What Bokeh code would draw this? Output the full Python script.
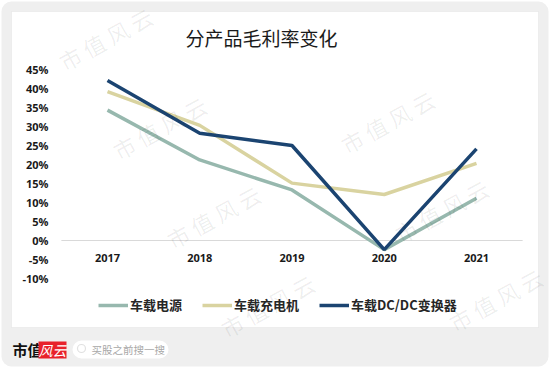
from bokeh.plotting import figure
from bokeh.models import Range1d, Label, BoxAnnotation, Legend, LegendItem
from bokeh.embed import file_html
from bokeh.resources import INLINE
from bokeh.core.properties import value

# ---------------- data ----------------
title_text = "分产品毛利率变化"
years = [2017, 2018, 2019, 2020, 2021]
year_labels = ["2017", "2018", "2019", "2020", "2021"]
power_supply = [34.3, 21.2, 13.3, -2.4, 11.1]     # 车载电源
onboard_charger = [39.2, 30.3, 15.1, 12.1, 20.3]  # 车载充电机
dcdc_converter = [42.1, 28.2, 25.0, -2.4, 24.1]   # 车载DC/DC变换器
series_names = ["车载电源", "车载充电机", "车载DC/DC变换器"]
y_ticks = [-10, -5, 0, 5, 10, 15, 20, 25, 30, 35, 40, 45]
y_tick_labels = ["-10%", "-5%", "0%", "5%", "10%", "15%", "20%", "25%", "30%", "35%", "40%", "45%"]
watermark_text = "市 值 风 云"
footer_brand = "市值"
footer_logo = "风云"
footer_search = "买股之前搜一搜"

# ---------------- layout (canvas pixel coordinates) ----------------
W, H = 550, 367
X_FIRST, X_LAST = 107, 476   # canvas x of first / last category
Y45, YM10 = 69, 278          # canvas y of the 45% and -10% ticks
kx = (X_LAST - X_FIRST) / (years[-1] - years[0])
ky = (YM10 - Y45) / 55.0
x_left = years[0] - X_FIRST / kx
x_right = years[0] + (W - X_FIRST) / kx
y_top = 45 + Y45 / ky
y_bot = -10 - (H - YM10) / ky


def px(x):
    return x_left + x / kx


def py(y):
    return y_top - y / ky


colors = ["#97b8ae", "#d9d3a0", "#1b4471"]
CJK = "Noto Sans CJK SC"

p = figure(width=W, height=H, x_range=Range1d(x_left, x_right), y_range=Range1d(y_bot, y_top),
           output_backend="svg", toolbar_location=None,
           min_border_left=0, min_border_right=0, min_border_top=0, min_border_bottom=0)
p.background_fill_color = "white"
p.border_fill_color = "white"
p.outline_line_color = None
p.grid.visible = False
p.axis.visible = False

# outer grey card
p.add_layout(BoxAnnotation(left=px(1), right=px(548), top=py(1), bottom=py(366), border_radius=10,
                           fill_color="#efefef", fill_alpha=1, line_color=None, level="underlay"))
# white panel
p.add_layout(BoxAnnotation(left=px(11), right=px(538), top=py(11), bottom=py(327),
                           fill_color="white", fill_alpha=1,
                           line_color="#d6d6d6", line_width=1, level="underlay"))

# zero line across the category band
p.segment(x0=[years[0] - 0.5], x1=[years[-1] + 0.5], y0=[0], y1=[0],
          line_color="#d9d9d9", line_width=1)

# y tick labels
p.text(x=[px(48)] * len(y_ticks), y=y_ticks, text=y_tick_labels,
       text_align="right", text_baseline="middle",
       text_font=value("Open Sans"), text_font_style="bold",
       text_font_size="11px", text_color="#1a1a1a")

renderers = []
for vals, c in zip([power_supply, onboard_charger, dcdc_converter], colors):
    r = p.line(years, vals, line_color=c, line_width=3.5)
    renderers.append(r)

# category labels just under the zero line
p.text(x=years, y=[0] * len(years), text=year_labels, y_offset=17,
       text_align="center", text_baseline="middle",
       text_font=value("Open Sans"), text_font_style="bold",
       text_font_size="11px", text_color="#1a1a1a")

legend = Legend(items=[LegendItem(label=n, renderers=[r]) for n, r in zip(series_names, renderers)],
                orientation="horizontal", location=(98, 53), padding=0, margin=0,
                spacing=20, glyph_width=30, glyph_height=16, label_standoff=2,
                label_height=16, label_text_font=CJK, label_text_font_style="bold",
                label_text_font_size="13px", label_text_color="#262626",
                border_line_color=None, background_fill_alpha=0)
p.add_layout(legend, "center")

# title
p.add_layout(Label(x=px(261), y=py(37), text=title_text,
                   text_align="center", text_baseline="middle", text_font=CJK,
                   text_font_size="19px", text_color="#1a1a1a"))

# footer
p.add_layout(Label(x=px(12), y=py(349), text=footer_brand,
                   text_align="left", text_baseline="middle", text_font=CJK,
                   text_font_style="bold", text_font_size="15px", text_color="#111111"))
p.add_layout(BoxAnnotation(left=px(38), right=px(66), top=py(341), bottom=py(358),
                           fill_color="#e8222b", fill_alpha=1, line_color=None))
p.add_layout(Label(x=px(52), y=py(349), text=footer_logo,
                   text_align="center", text_baseline="middle", text_font=CJK,
                   text_font_style="italic", text_font_size="14px", text_color="white"))
p.add_layout(BoxAnnotation(left=px(72), right=px(168), top=py(340), bottom=py(358),
                           border_radius=9, fill_color="white", fill_alpha=1, line_color=None))
p.add_layout(BoxAnnotation(left=px(77), right=px(85), top=py(344), bottom=py(352),
                           border_radius=4, fill_alpha=0, line_color="#9a9a9a", line_width=1.2))
p.add_layout(Label(x=px(91), y=py(349), text=footer_search,
                   text_align="left", text_baseline="middle", text_font=CJK,
                   text_font_size="10.5px", text_color="#a8a8a8"))

# watermarks (only those that fit fully on the canvas)
bx, by = 105, 38
ax_, ay_ = 228, -6
cx_, cy_ = 54, 89
for i in range(-2, 4):
    for j in range(-1, 5):
        x = bx + i * ax_ + j * cx_
        y = by + i * ay_ + j * cy_
        if 52 < x < W - 52 and 34 < y < H - 34:
            p.add_layout(Label(x=px(x), y=py(y),
                               text=watermark_text, angle=0.5,
                               text_align="center", text_baseline="middle",
                               text_font=CJK, text_font_size="22px",
                               text_color="black", text_alpha=0.07))

open("out.html", "w").write(file_html(p, INLINE))
